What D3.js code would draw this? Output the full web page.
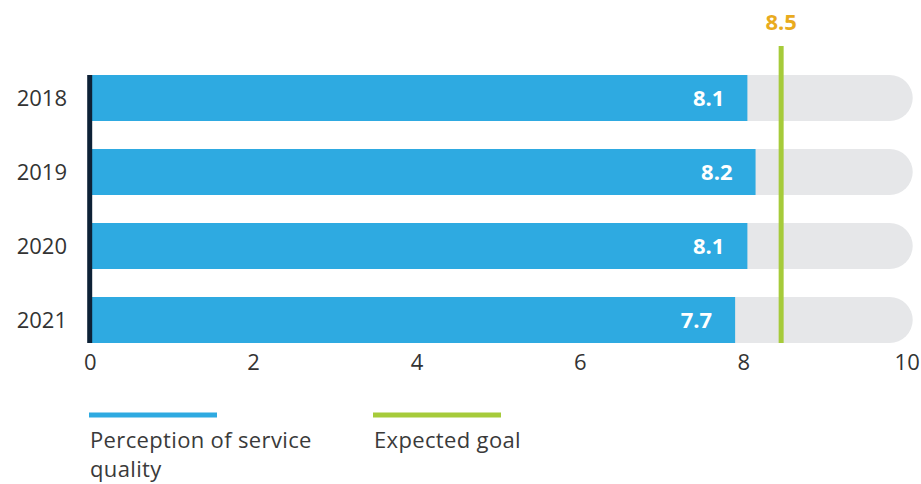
<!DOCTYPE html>
<meta charset="utf-8">
<style>
body { margin: 0; background: #fff; }
svg text { font-family: "Open Sans", sans-serif; }
.tick text { fill: #333; font-size: 22px; }
.year { fill: #333; font-size: 22px; }
.val { fill: #fff; font-size: 22px; font-weight: 700; }
.legend text { fill: #3a3a3a; font-size: 22px; letter-spacing: 0.35px; }
</style>
<body>
<script src="https://cdn.jsdelivr.net/npm/d3@7"></script>
<script>
// data
var years = ["2018", "2019", "2020", "2021"];
var barLengths = [8.05, 8.15, 8.05, 7.9];     // drawn bar lengths
var labels = ["8.1", "8.2", "8.1", "7.7"];     // printed values
var goal = 8.5;
var ticks = [0, 2, 4, 6, 8, 10];
var legendNames = ["Perception of service quality", "Expected goal"];

var width = 921, height = 484;

var x = d3.scaleLinear().domain([0, 10]).range([89.7, 906.7]);

var y = d3.scaleBand()
    .domain(years)
    .range([61, 357])
    .paddingInner(28 / 74)
    .paddingOuter(14 / 74);

var svg = d3.select("body").append("svg")
    .attr("width", width)
    .attr("height", height);

var rows = svg.selectAll(".row")
    .data(years)
  .enter().append("g")
    .attr("class", "row")
    .attr("transform", function(d) { return "translate(0," + y(d) + ")"; });

// grey track, rounded at the right end
rows.append("rect")
    .attr("x", x(0))
    .attr("width", x(10) + 6 - x(0))
    .attr("height", y.bandwidth())
    .attr("rx", y.bandwidth() / 2)
    .attr("fill", "#e6e7e9");

// blue bars
rows.append("rect")
    .attr("x", x(0))
    .attr("width", function(d, i) { return x(barLengths[i]) - x(0); })
    .attr("height", y.bandwidth())
    .attr("fill", "#2eaae1");

rows.append("text")
    .attr("class", "val")
    .attr("x", function(d, i) { return x(barLengths[i]) - 23; })
    .attr("y", y.bandwidth() / 2)
    .attr("dy", "0.36em")
    .attr("text-anchor", "end")
    .text(function(d, i) { return labels[i]; });

rows.append("text")
    .attr("class", "year")
    .attr("x", 67)
    .attr("y", y.bandwidth() / 2)
    .attr("dy", "0.36em")
    .attr("text-anchor", "end")
    .text(function(d) { return d; });

// dark baseline at zero
svg.append("line")
    .attr("x1", x(0)).attr("x2", x(0))
    .attr("y1", y(years[0]))
    .attr("y2", y(years[years.length - 1]) + y.bandwidth())
    .attr("stroke", "#0d2136")
    .attr("stroke-width", 5);

// goal line
svg.append("line")
    .attr("x1", x(goal) - 3).attr("x2", x(goal) - 3)
    .attr("y1", 46)
    .attr("y2", y(years[years.length - 1]) + y.bandwidth())
    .attr("stroke", "#a6cb3a")
    .attr("stroke-width", 5);

svg.append("text")
    .attr("x", x(goal) - 3)
    .attr("y", 30)
    .attr("text-anchor", "middle")
    .attr("fill", "#e9ab1e")
    .style("font-size", "22px")
    .style("font-weight", 700)
    .text(goal);

// x axis
var xAxis = svg.append("g")
    .attr("class", "axis")
    .attr("transform", "translate(0,350)")
    .call(d3.axisBottom(x).tickValues(ticks).tickSize(0).tickPadding(0));
xAxis.select(".domain").remove();
xAxis.selectAll("text").attr("dy", "0.71em").attr("y", 4);

// legend
var legendX = [89, 373];
var legendColors = ["#2eaae1", "#a6cb3a"];
var legend = svg.selectAll(".legend")
    .data(legendNames)
  .enter().append("g")
    .attr("class", "legend")
    .attr("transform", function(d, i) { return "translate(" + legendX[i] + ",0)"; });

legend.append("line")
    .attr("x1", 0).attr("x2", 128)
    .attr("y1", 415).attr("y2", 415)
    .attr("stroke", function(d, i) { return legendColors[i]; })
    .attr("stroke-width", 5);

legend.append("text")
    .attr("x", 1)
    .attr("y", 448)
    .each(function(d) {
      var t = d3.select(this);
      var lines = d === legendNames[0] ? ["Perception of service", "quality"] : [d];
      lines.forEach(function(l, j) {
        t.append("tspan").attr("x", 1).attr("dy", j ? 29 : 0).text(l);
      });
    });
</script>
